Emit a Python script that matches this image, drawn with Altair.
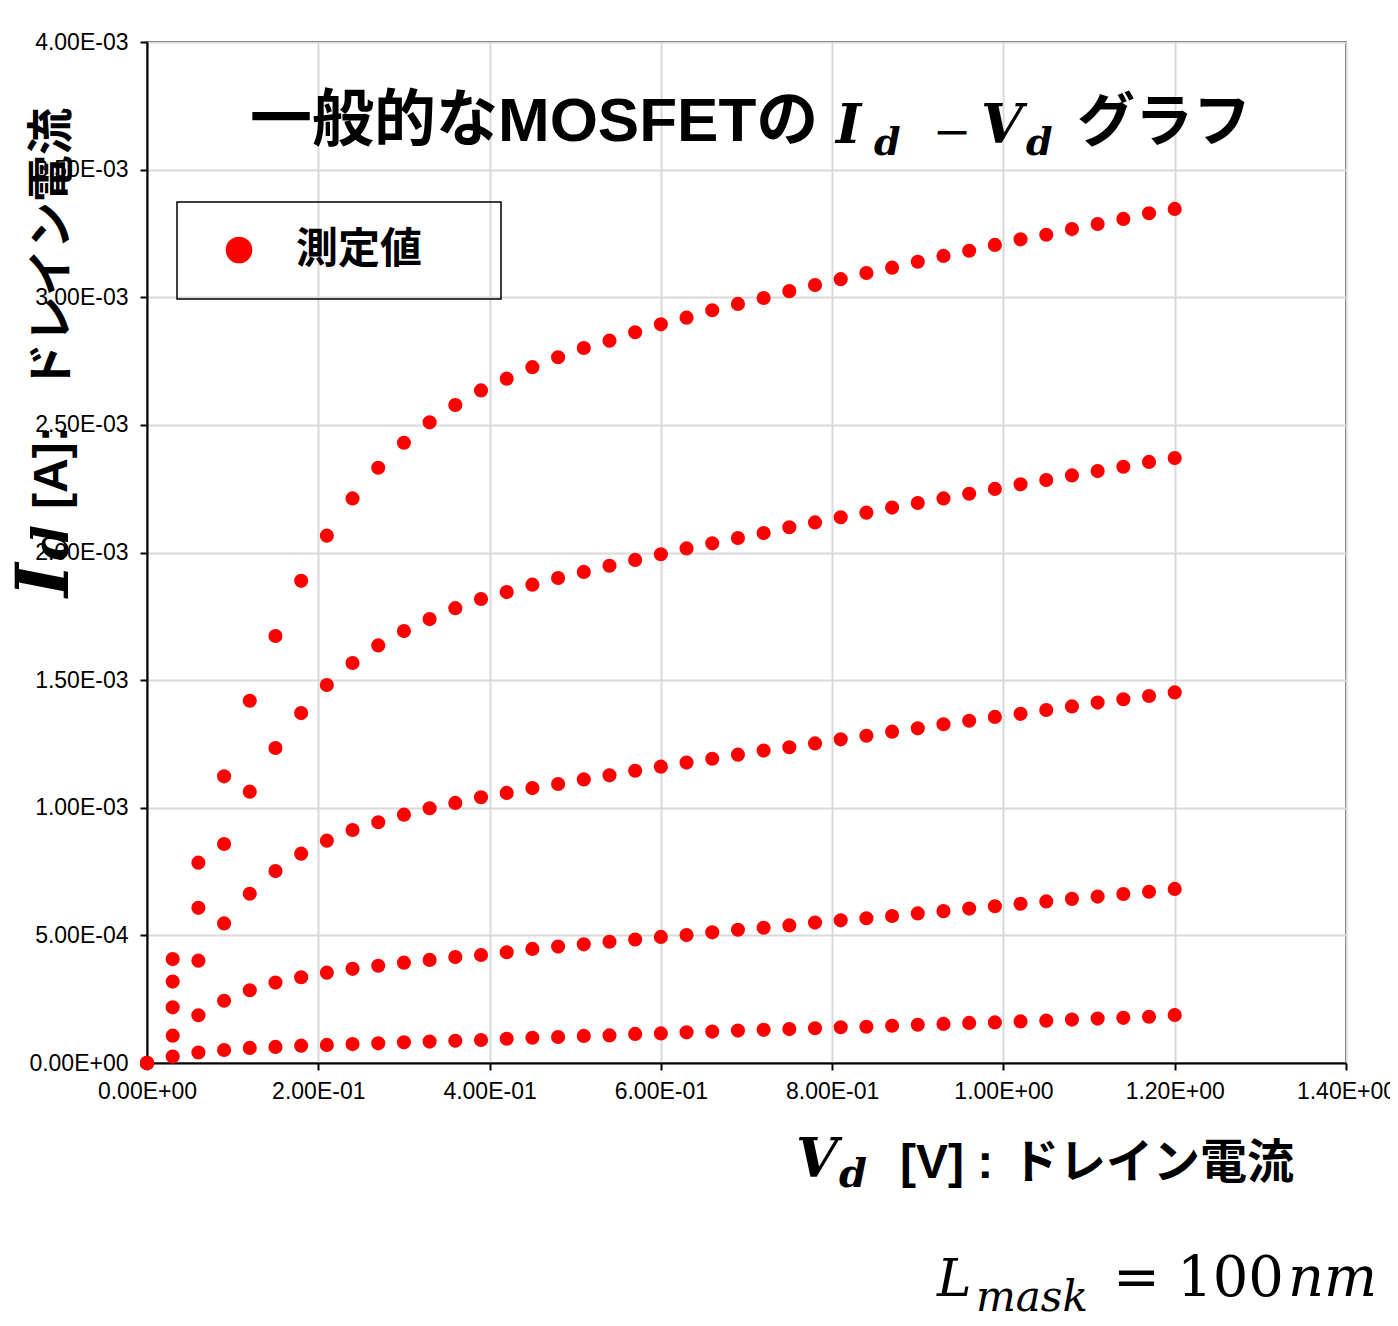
import altair as alt
import pandas as pd

# ---- data ----
vd_v = [0.00, 0.03, 0.06, 0.09, 0.12, 0.15, 0.18, 0.21, 0.24, 0.27, 0.30,
        0.33, 0.36, 0.39, 0.42, 0.45, 0.48, 0.51, 0.54, 0.57, 0.60, 0.63,
        0.66, 0.69, 0.72, 0.75, 0.78, 0.81, 0.84, 0.87, 0.90, 0.93, 0.96,
        0.99, 1.02, 1.05, 1.08, 1.11, 1.14, 1.17, 1.20]

# drain current in mA for each curve (top to bottom)
id_1_ma = [0.0, 0.407, 0.785, 1.123, 1.419, 1.673, 1.889, 2.066, 2.212, 2.332,
           2.430, 2.510, 2.578, 2.635, 2.681, 2.726, 2.765, 2.801, 2.830, 2.863,
           2.894, 2.920, 2.949, 2.974, 2.997, 3.024, 3.048, 3.071, 3.095, 3.116,
           3.139, 3.162, 3.182, 3.205, 3.227, 3.245, 3.267, 3.287, 3.307, 3.329,
           3.346]
id_2_ma = [0.0, 0.319, 0.608, 0.858, 1.063, 1.234, 1.371, 1.481, 1.567, 1.636,
           1.692, 1.739, 1.782, 1.818, 1.845, 1.874, 1.900, 1.924, 1.948, 1.971,
           1.993, 2.016, 2.036, 2.057, 2.076, 2.099, 2.118, 2.138, 2.156, 2.176,
           2.194, 2.212, 2.230, 2.249, 2.267, 2.284, 2.302, 2.319, 2.336, 2.355,
           2.370]
id_3_ma = [0.0, 0.218, 0.401, 0.547, 0.663, 0.752, 0.820, 0.871, 0.913, 0.943,
           0.973, 0.998, 1.019, 1.041, 1.058, 1.077, 1.093, 1.111, 1.127, 1.145,
           1.161, 1.177, 1.192, 1.208, 1.224, 1.237, 1.252, 1.268, 1.282, 1.298,
           1.311, 1.327, 1.341, 1.356, 1.368, 1.383, 1.397, 1.412, 1.425, 1.438,
           1.452]
id_4_ma = [0.0, 0.107, 0.187, 0.244, 0.285, 0.315, 0.336, 0.354, 0.369, 0.381,
           0.393, 0.404, 0.415, 0.423, 0.434, 0.447, 0.456, 0.465, 0.475, 0.484,
           0.494, 0.501, 0.512, 0.522, 0.530, 0.539, 0.550, 0.559, 0.567, 0.576,
           0.586, 0.595, 0.605, 0.614, 0.624, 0.633, 0.643, 0.652, 0.662, 0.671,
           0.682]
id_5_ma = [0.0, 0.025, 0.041, 0.051, 0.059, 0.063, 0.068, 0.071, 0.074, 0.077,
           0.081, 0.084, 0.087, 0.090, 0.095, 0.099, 0.102, 0.106, 0.108, 0.114,
           0.116, 0.120, 0.123, 0.127, 0.130, 0.133, 0.136, 0.140, 0.142, 0.146,
           0.150, 0.153, 0.157, 0.159, 0.163, 0.166, 0.170, 0.174, 0.177, 0.181,
           0.188]

x_tick_values = [0.0, 0.2, 0.4, 0.6, 0.8, 1.0, 1.2, 1.4]
x_tick_labels = ["0.00E+00", "2.00E-01", "4.00E-01", "6.00E-01", "8.00E-01",
                 "1.00E+00", "1.20E+00", "1.40E+00"]
y_tick_values = [0.0, 0.0005, 0.001, 0.0015, 0.002, 0.0025, 0.003, 0.0035, 0.004]
y_tick_labels = ["0.00E+00", "5.00E-04", "1.00E-03", "1.50E-03", "2.00E-03",
                 "2.50E-03", "3.00E-03", "3.50E-03", "4.00E-03"]
legend_label = "測定値"

rows = []
for k, curve in enumerate([id_1_ma, id_2_ma, id_3_ma, id_4_ma, id_5_ma]):
    for v, i_ma in zip(vd_v, curve):
        rows.append({"Vd": v, "Id": i_ma / 1000.0, "series": legend_label, "curve": k})
df = pd.DataFrame(rows)

JP = "Liberation Sans, Noto Sans CJK JP"
MATH = "DejaVu Serif"

x_label_expr = "[" + ",".join("'%s'" % s for s in x_tick_labels) + "][round(datum.value / 0.2)]"
y_label_expr = "[" + ",".join("'%s'" % s for s in y_tick_labels) + "][round(datum.value / 0.0005)]"

points = alt.Chart(df).mark_circle(size=200, opacity=1).encode(
    x=alt.X("Vd:Q",
            scale=alt.Scale(domain=[0, 1.4], nice=False, zero=False),
            axis=alt.Axis(values=x_tick_values, labelExpr=x_label_expr, title=None,
                          labelFlush=False, labelOverlap=False, labelPadding=10)),
    y=alt.Y("Id:Q",
            scale=alt.Scale(domain=[0, 0.004], nice=False, zero=False),
            axis=alt.Axis(values=y_tick_values, labelExpr=y_label_expr, title=None,
                          labelFlush=False, labelOverlap=False, labelPadding=12)),
    color=alt.Color("series:N",
                    scale=alt.Scale(domain=[legend_label], range=["#ff0000"]),
                    legend=alt.Legend(title=None, orient="none", legendX=30, legendY=160,
                                      padding=27,
                                      symbolType="circle", symbolSize=707,
                                      symbolOffset=14, labelOffset=36,
                                      labelFont="Noto Sans CJK JP", labelFontWeight="bold",
                                      labelFontSize=42, labelColor="black")),
    detail="curve:N",
)

# frame around the legend
legend_frame = alt.Chart(pd.DataFrame({"k": [0]})).mark_rect(
    filled=False, stroke="black", strokeWidth=1.5
).encode(x=alt.value(30), x2=alt.value(354), y=alt.value(160), y2=alt.value(257))


def label(text, x, y, size, font, style="normal", weight="normal", angle=0,
          align="left", baseline="alphabetic"):
    return alt.Chart(pd.DataFrame({"t": [text]})).mark_text(
        align=align, baseline=baseline, font=font, fontSize=size,
        fontStyle=style, fontWeight=weight, angle=angle, color="black"
    ).encode(text="t:N", x=alt.value(x), y=alt.value(y))


texts = [
    # title
    label("一般的なMOSFETの", 103, 99, 62, JP, weight="bold"),
    label("I", 689, 101, 54, MATH, style="italic", weight="bold"),
    label("d", 727, 113, 38, MATH, style="italic", weight="bold"),
    label("−", 805, 91, 46, MATH, align="center", baseline="middle"),
    label("V", 834, 101, 54, MATH, style="italic", weight="bold"),
    label("d", 879, 113, 38, MATH, style="italic", weight="bold"),
    label("グラフ", 930, 99, 58, JP, weight="bold"),
    # x axis title
    label("V", 649, 1135, 54, MATH, style="italic", weight="bold"),
    label("d", 692, 1145, 40, MATH, style="italic", weight="bold"),
    label("[V] :", 753, 1136, 48, JP, weight="bold"),
    label("ドレイン電流", 865, 1136, 47, JP, weight="bold"),
    # y axis title (rotated)
    label("I", -79, 555, 72, MATH, style="italic", weight="bold", angle=270),
    label("d", -79, 518, 50, MATH, style="italic", weight="bold", angle=270),
    label("[A]:", -80, 467, 48, JP, weight="bold", angle=270),
    label("ドレイン電流", -80, 348, 47, JP, weight="bold", angle=270),
    # L_mask = 100nm
    label("L", 790, 1254, 52, MATH, style="italic"),
    label("mask", 829, 1269, 42, MATH, style="italic"),
    label("=", 966, 1254, 56, MATH),
    label("100", 1030, 1254, 56, MATH),
    label("nm", 1141, 1254, 56, MATH, style="italic"),
]

chart = alt.layer(points, legend_frame, *texts).properties(
    width=1199, height=1021,
    autosize=alt.AutoSizeParams(type="none"),
    padding={"left": 139, "top": 34, "right": 44, "bottom": 251},
).configure_view(
    stroke="black", strokeWidth=1.5
).configure_axis(
    domainColor="black", domainWidth=2, tickColor="black", tickWidth=2, tickSize=7,
    labelFont="Liberation Sans", labelFontSize=23, labelColor="black",
    grid=True, gridColor="#d9d9d9", gridWidth=2
)

chart.save("out.html", embed_options={"renderer": "svg", "actions": False})
